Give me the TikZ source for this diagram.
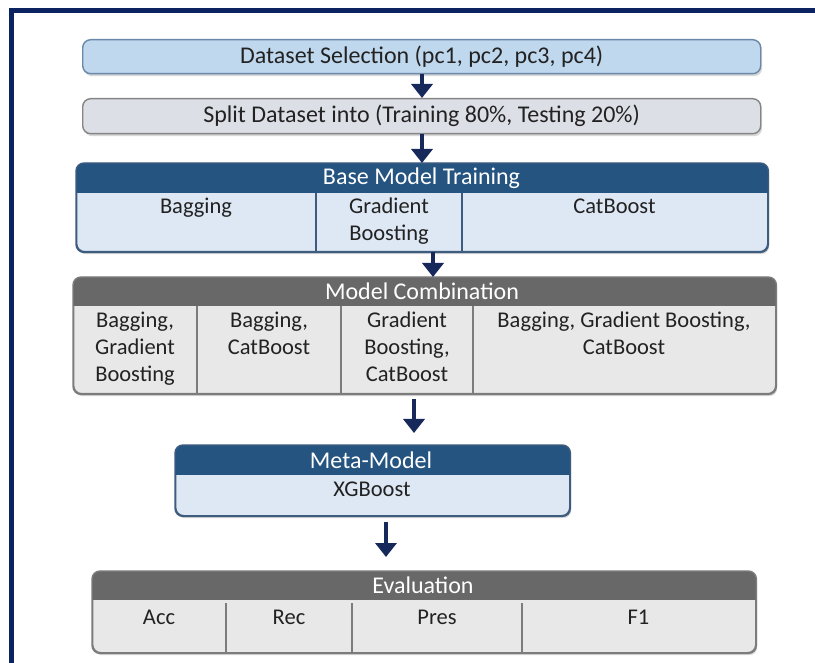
\documentclass[tikz,border=0pt]{standalone}
\usepackage{fontspec}
\setmainfont{Carlito}
\usetikzlibrary{arrows.meta,calc,shadows}

\definecolor{framenavy}{HTML}{0B2461}
\definecolor{arrownavy}{HTML}{17285A}
\definecolor{selfill}{HTML}{BFD8EE}
\definecolor{selborder}{HTML}{6A88A8}
\definecolor{splitfill}{HTML}{DDDFE7}
\definecolor{splitborder}{HTML}{858585}
\definecolor{hdrblue}{HTML}{255481}
\definecolor{bodyblue}{HTML}{DDE8F4}
\definecolor{blueborder}{HTML}{3E5C7E}
\definecolor{hdrgray}{HTML}{686868}
\definecolor{bodygray}{HTML}{E8E8E8}
\definecolor{grayborder}{HTML}{7C7C7C}
\definecolor{textdark}{HTML}{222222}

% fixes the height of the first line of a cell so its baseline is predictable
\newcommand{\cellstrut}{\rule{0pt}{16pt}}

\tikzset{
  panel/.style={draw, line width=1.4pt, rounded corners=8pt, inner sep=0pt,
    anchor=north west,
    drop shadow={shadow xshift=1.5pt, shadow yshift=-2.5pt, opacity=0.28, fill=black!55}},
  toptext/.style={text=textdark, font=\fontsize{24}{28}\selectfont},
  hdrtext/.style={text=white, inner sep=0pt, font=\fontsize{24}{28}\selectfont},
  celltext/.style={text=textdark, inner sep=0pt, anchor=north, align=center,
    font=\fontsize{22.5}{27}\selectfont},
  divider/.style={line width=1.2pt},
  flow/.style={draw=arrownavy, line width=4.5pt, -{Triangle[width=21pt,length=14pt]}},
}

\begin{document}
\begin{tikzpicture}[x=1pt, y=-1pt]
\useasboundingbox (0,0) rectangle (815,663);
\clip (0,0) rectangle (815,663);
\fill[white] (0,0) rectangle (815,663);

% outer frame (top and left edges run off the page)
\draw[framenavy, line width=5pt] (11.5,700) -- (11.5,10.5) -- (840,10.5);

% ---- simple steps ----
\node[panel, fill=selfill, draw=selborder, minimum width=678pt, minimum height=34pt,
      toptext] (sel) at (82,39) {Dataset Selection (pc1, pc2, pc3, pc4)};
\node[panel, fill=splitfill, draw=splitborder, minimum width=678pt, minimum height=35pt,
      toptext] (split) at (82,98) {Split Dataset into (Training 80\%, Testing 20\%)};

% ---- panels with a header band ----
\node[panel, fill=bodyblue, draw=blueborder, minimum width=691pt, minimum height=88pt] (base) at (76,163) {};
\node[panel, fill=bodygray, draw=grayborder, minimum width=702pt, minimum height=116pt] (comb) at (73,277) {};
\node[panel, fill=bodyblue, draw=blueborder, minimum width=394pt, minimum height=70pt] (meta) at (175,445) {};
\node[panel, fill=bodygray, draw=grayborder, minimum width=663pt, minimum height=81pt] (eval) at (92,571) {};

% header bands, clipped to each panel's rounded outline
\foreach \p/\c/\h in {base/hdrblue/30, comb/hdrgray/29, meta/hdrblue/30, eval/hdrgray/29}{
  \begin{scope}
    \clip[rounded corners=8pt] (\p.north west) rectangle (\p.south east);
    \fill[\c] (\p.north west) rectangle ($(\p.north east)+(0,\h)$);
  \end{scope}
}

% column dividers
\draw[divider, blueborder] (316,193) -- (316,251) (462,193) -- (462,251);
\draw[divider, grayborder] (197,306) -- (197,393) (341,306) -- (341,393) (473,306) -- (473,393);
\draw[divider, grayborder] (226,603) -- (226,652) (352,603) -- (352,652) (522,603) -- (522,652);

% panel outlines on top
\draw[blueborder, line width=1.4pt, rounded corners=8pt] (base.north west) rectangle (base.south east);
\draw[grayborder, line width=1.4pt, rounded corners=8pt] (comb.north west) rectangle (comb.south east);
\draw[blueborder, line width=1.4pt, rounded corners=8pt] (meta.north west) rectangle (meta.south east);
\draw[grayborder, line width=1.4pt, rounded corners=8pt] (eval.north west) rectangle (eval.south east);

% header titles
\node[hdrtext] (baseT) at (421.5,178) {Base Model Training};
\node[hdrtext] (combT) at (422,291.5) {Model Combination};
\node[hdrtext] (metaT) at (371,460) {Meta-Model};
\node[hdrtext] (evalT) at (423,585.5) {Evaluation};

% base model cells
\node[celltext] (bBag) at (196,197) {\cellstrut Bagging};
\node[celltext] (bGB)  at (389,197) {\cellstrut Gradient\\Boosting};
\node[celltext] (bCat) at (614.5,197) {\cellstrut CatBoost};

% combination cells
\node[celltext] (c1) at (135,311) {\cellstrut Bagging,\\Gradient\\Boosting};
\node[celltext] (c2) at (269,311) {\cellstrut Bagging,\\CatBoost};
\node[celltext] (c3) at (407,311) {\cellstrut Gradient\\Boosting,\\CatBoost};
\node[celltext] (c4) at (624,311) {\cellstrut Bagging, Gradient Boosting,\\CatBoost};

% meta-model cell
\node[celltext] (mX) at (372,480) {\cellstrut XGBoost};

% evaluation cells
\node[celltext] (eAcc)  at (159,608) {\cellstrut Acc};
\node[celltext] (eRec)  at (289,608) {\cellstrut Rec};
\node[celltext] (ePres) at (437,608) {\cellstrut Pres};
\node[celltext] (eF1)   at (638.5,608) {\cellstrut F1};

% flow arrows
\coordinate (a1) at (422,0);
\coordinate (a3) at (433,0);
\coordinate (a4) at (414,0);
\coordinate (a5) at (386,0);
\draw[flow] (a1 |- sel.south) -- (a1 |- split.north);
\draw[flow] (a1 |- split.south) -- (a1 |- base.north);
\draw[flow] (a3 |- base.south) -- (a3 |- comb.north);
\draw[flow, shorten <=5pt, shorten >=12pt] (a4 |- comb.south) -- (a4 |- meta.north);
\draw[flow, shorten <=6pt, shorten >=14pt] (a5 |- meta.south) -- (a5 |- eval.north);
\end{tikzpicture}
\end{document}
